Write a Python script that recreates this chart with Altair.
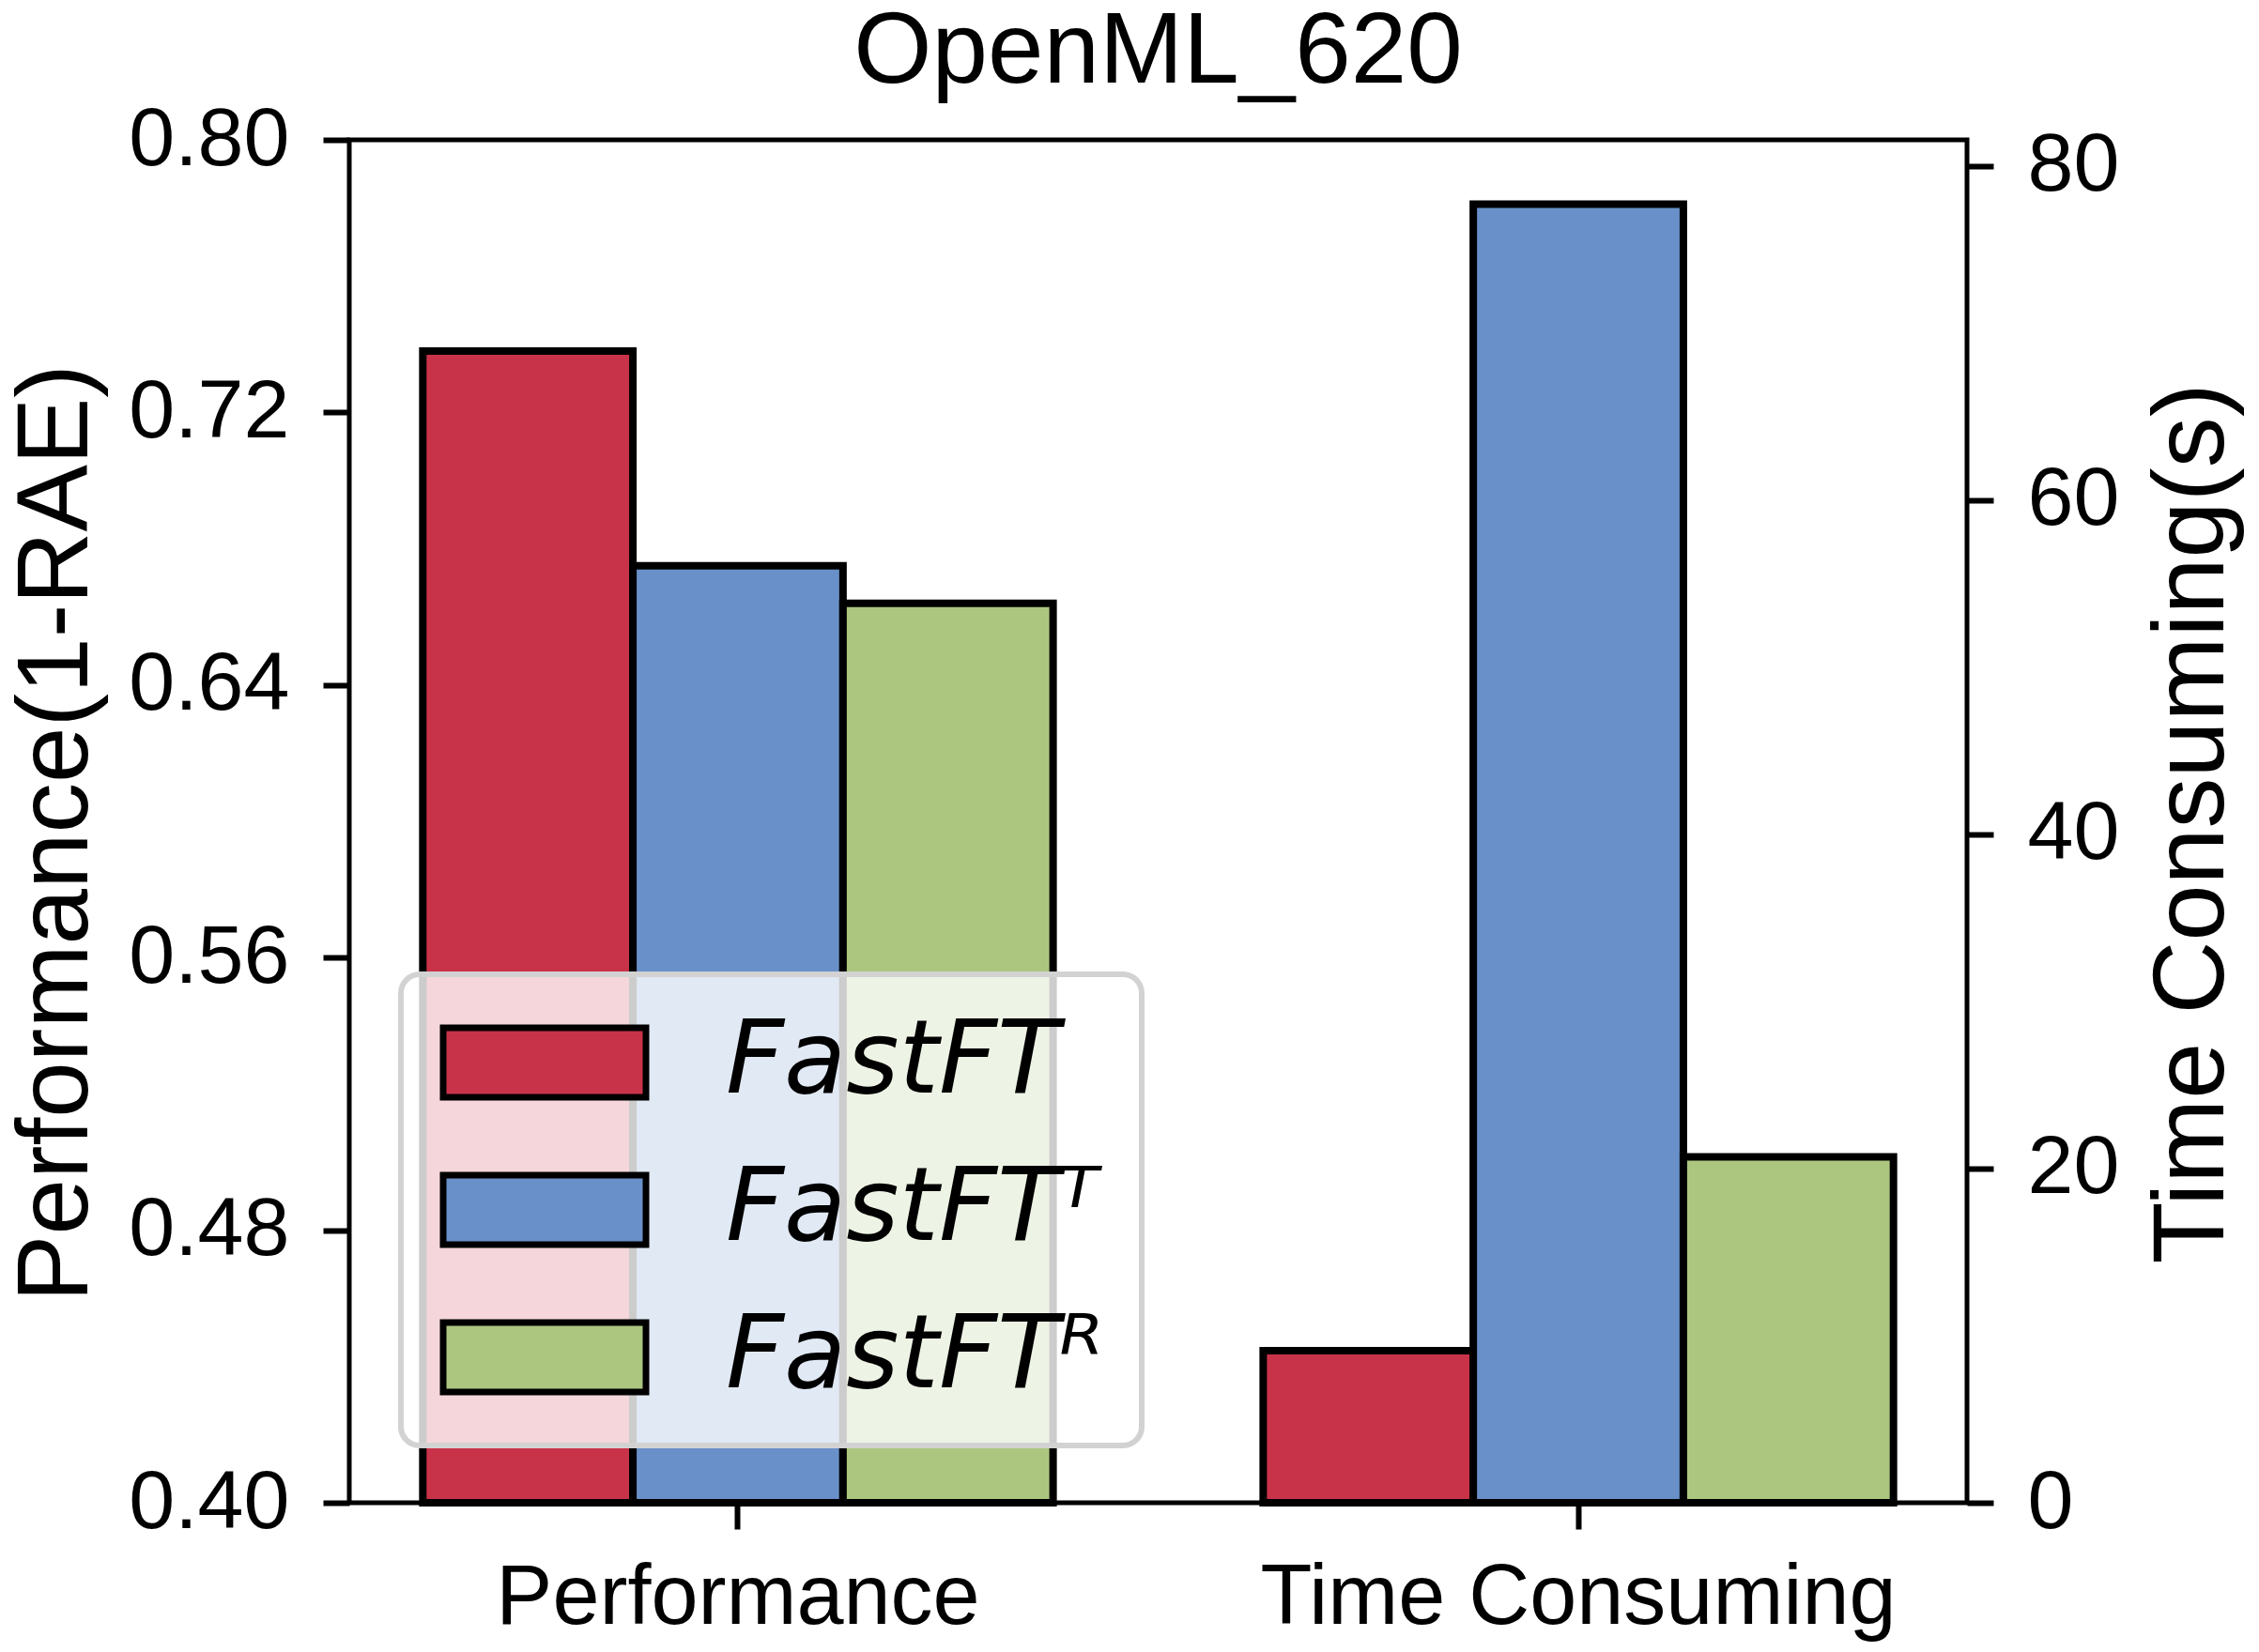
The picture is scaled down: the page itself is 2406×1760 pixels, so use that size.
import altair as alt
import pandas as pd

# ---- data ----
groups = ["Performance", "Time Consuming"]
methods = ["FastFT", "FastFTᵀ", "FastFTᴿ"]
colors = ["#c9334a", "#6990c8", "#acc67f"]
performance = [0.738, 0.675, 0.664]
time_consuming = [9.1, 77.7, 20.7]
perf_ticks = [0.40, 0.48, 0.56, 0.64, 0.72, 0.80]
time_ticks = [0, 20, 40, 60, 80]
perf_domain = [0.40, 0.80]
time_domain = [0, 81.55]

perf_df = pd.DataFrame({"group": groups[0], "method": methods, "value": performance})
time_df = pd.DataFrame({"group": groups[1], "method": methods, "value": time_consuming})

W, H = 1723, 1452
SANS = "Liberation Sans"

x_enc = alt.X(
    "group:N",
    scale=alt.Scale(domain=groups, paddingInner=0.25, paddingOuter=0.0875),
    axis=alt.Axis(title=None, labelAngle=0, labelFont=SANS, labelFontSize=90,
                  labelColor="black", labelLimit=0, tickSize=28, tickWidth=6,
                  tickColor="black", labelPadding=29, domain=False, grid=False),
)
xoff = alt.XOffset("method:N", scale=alt.Scale(domain=methods, paddingInner=0, paddingOuter=0))
color = alt.Color(
    "method:N",
    scale=alt.Scale(domain=methods, range=colors),
    legend=alt.Legend(
        title=None, orient="none", legendX=55, legendY=889, direction="vertical",
        padding=40, fillColor="rgba(255,255,255,0.8)", strokeColor="#d2d2d2",
        cornerRadius=20,
        symbolType="M-0.98,-0.74H3.34V0.74H-0.98Z", symbolSize=100 * 100,
        symbolStrokeColor="black", symbolStrokeWidth=7, symbolOpacity=1,
        labelFont="DejaVu Sans", labelFontStyle="italic", labelFontSize=108,
        labelColor="black", labelOffset=198, rowPadding=49, labelLimit=0,
    ),
)

perf_bars = alt.Chart(perf_df).mark_bar(stroke="black", strokeWidth=8).encode(
    x=x_enc,
    xOffset=xoff,
    color=color,
    y=alt.Y("value:Q",
            scale=alt.Scale(domain=perf_domain, zero=False, nice=False),
            axis=alt.Axis(orient="left", values=perf_ticks, format=".2f",
                          title="Performance(1-RAE)", titleFont=SANS, titleFontSize=107,
                          titleFontWeight="normal", titleColor="black",
                          titleX=-312, titleY=H / 2 + 12, titleBaseline="middle",
                          titleAlign="center", titleAngle=270,
                          labelFont=SANS, labelFontSize=88, labelColor="black",
                          labelPadding=36, tickSize=28, tickWidth=6, tickColor="black",
                          domain=False, grid=False)),
    y2=alt.datum(perf_domain[0]),
)

time_bars = alt.Chart(time_df).mark_bar(stroke="black", strokeWidth=8).encode(
    x=x_enc,
    xOffset=xoff,
    color=color,
    y=alt.Y("value:Q",
            scale=alt.Scale(domain=time_domain, nice=False),
            axis=alt.Axis(orient="right", values=time_ticks, format="d",
                          title="Time Consuming(s)", titleFont=SANS, titleFontSize=108,
                          titleFontWeight="normal", titleColor="black",
                          titleX=240, titleY=H / 2 + 2, titleBaseline="middle",
                          titleAlign="center", titleAngle=270,
                          labelFont=SANS, labelFontSize=88, labelColor="black",
                          labelPadding=36, tickSize=28, tickWidth=6, tickColor="black",
                          domain=False, grid=False)),
)

chart = (
    alt.layer(perf_bars, time_bars)
    .resolve_scale(y="independent")
    .properties(
        width=W, height=H,
        background="white",
        title=alt.TitleParams("OpenML_620", font=SANS, fontSize=107, fontWeight="normal",
                              color="black", anchor="middle", baseline="alphabetic",
                              offset=5, dy=95),
        autosize=alt.AutoSizeParams(type="none"),
        padding={"left": 364, "top": 141, "right": 300, "bottom": 150},
    )
    .configure_view(stroke="black", strokeWidth=5)
    .configure_legend(strokeWidth=6)
)

chart.save("out.html", embed_options={"renderer": "svg", "actions": False})
